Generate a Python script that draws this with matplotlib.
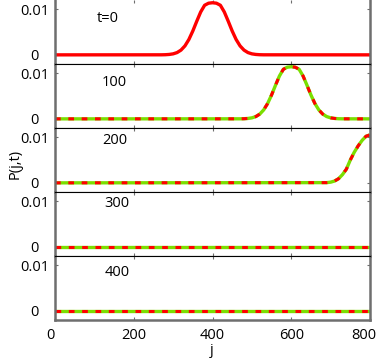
import matplotlib
matplotlib.use("Agg")
import matplotlib.pyplot as plt
import matplotlib.transforms as mtransforms

plt.rcParams['font.family'] = ['Open Sans', 'DejaVu Sans']
plt.rcParams['lines.scale_dashes'] = False

# ---- data ----
j_t0 = [0, 270, 280, 290, 300, 310, 320, 330, 340, 350, 360, 370, 380, 390, 400,
        410, 420, 430, 440, 450, 460, 470, 480, 490, 500, 510, 520, 530, 800]
P_t0 = [0, 0.00001, 0.00003, 0.00009, 0.00022, 0.00050, 0.00104, 0.00196, 0.00336,
        0.00522, 0.00735, 0.00938, 0.01085, 0.01130, 0.01140, 0.01130, 0.01085,
        0.00938, 0.00735, 0.00522, 0.00336, 0.00196, 0.00104, 0.00050, 0.00022,
        0.00009, 0.00003, 0.00001, 0]

j_t100 = [0, 470, 480, 490, 500, 510, 520, 530, 540, 550, 560, 570, 580, 590, 600,
          610, 620, 630, 640, 650, 660, 670, 680, 690, 700, 710, 720, 730, 800]
P_t100 = [0, 0.00001, 0.00003, 0.00009, 0.00022, 0.00050, 0.00104, 0.00196, 0.00336,
          0.00522, 0.00735, 0.00938, 0.01085, 0.01130, 0.01140, 0.01130, 0.01085,
          0.00938, 0.00735, 0.00522, 0.00336, 0.00196, 0.00104, 0.00050, 0.00022,
          0.00009, 0.00003, 0.00001, 0]

j_t200 = [0, 690, 700, 710, 720, 730, 740, 750, 760, 770, 780, 790, 800]
P_t200 = [0, 0.00005, 0.00015, 0.0004, 0.0009, 0.0018, 0.0030, 0.0050, 0.0067,
          0.0081, 0.0093, 0.0102, 0.0105]

j_t300 = [0, 800]
P_t300 = [0, 0]
j_t400 = [0, 800]
P_t400 = [0, 0]

panel_labels = ['t=0', '100', '200', '300', '400']
label_x = [133, 151, 153, 157, 159]
label_y = [0.00806, 0.00791, 0.00916, 0.00946, 0.00839]

x_ticks = [0, 200, 400, 600, 800]
y_ticks = [0, 0.01]
y_tick_labels = ['0', '0.01']

series = [(j_t0, P_t0), (j_t100, P_t100), (j_t200, P_t200),
          (j_t300, P_t300), (j_t400, P_t400)]

# ---- figure ----
W, H = 381, 359
fig = plt.figure(figsize=(W / 100, H / 100), dpi=100)
gs = fig.add_gridspec(5, 1, left=55 / W, right=370 / W, top=1.0,
                      bottom=1 - 320 / H, hspace=0)

gray = '#6e6e6e'
red = '#ff0000'
green = '#7ade00'
fs = 10.5

for k, (jj, pp) in enumerate(series):
    ax = fig.add_subplot(gs[k, 0])
    if k == 0:
        ax.plot(jj, pp, color=red, lw=2.4, solid_capstyle='butt')
    else:
        ax.plot(jj, pp, color=green, lw=2.4, solid_capstyle='butt')
        ax.plot(jj, pp, color=red, lw=2.2, dashes=(4.1, 5.5),
                dash_capstyle='butt')
    ax.set_xlim(0, 800)
    ax.set_ylim(-0.002, 0.012)
    ax.set_yticks(y_ticks)
    ax.set_yticklabels(y_tick_labels)
    ax.set_xticks(x_ticks)
    ax.tick_params(axis='both', direction='in', length=2.5, width=0.8,
                   color=gray, labelsize=fs, top=True, right=True)
    ax.tick_params(axis='y', pad=14.5)
    ax.tick_params(axis='x', pad=5.5)
    for lab in ax.get_yticklabels():
        lab.set_horizontalalignment('center')
    if k < 4:
        ax.tick_params(axis='x', labelbottom=False)
    else:
        labs = ax.get_xticklabels()
        for lab, dx in ((labs[0], -5), (labs[-1], -6)):
            lab.set_transform(lab.get_transform() +
                              mtransforms.Affine2D().translate(dx, 0))
    for s in ('left', 'right'):
        ax.spines[s].set_color(gray)
        ax.spines[s].set_linewidth(1.8)
    for s in ('top', 'bottom'):
        ax.spines[s].set_color('black')
        ax.spines[s].set_linewidth(0.8)
    if k == 0:
        ax.spines['top'].set_visible(False)
    if k == 4:
        ax.spines['bottom'].set_color(gray)
        ax.spines['bottom'].set_linewidth(1.8)
    ax.text(label_x[k], label_y[k], panel_labels[k], ha='center', va='center',
            fontsize=fs)

fig.text(15 / W, 1 - 164 / H, 'P(j,t)', rotation=90, ha='center', va='center',
         fontsize=fs)
fig.text(212 / W, 1 - 351 / H, 'j', ha='center', va='center', fontsize=fs)

fig.savefig('out.png', dpi=100)
